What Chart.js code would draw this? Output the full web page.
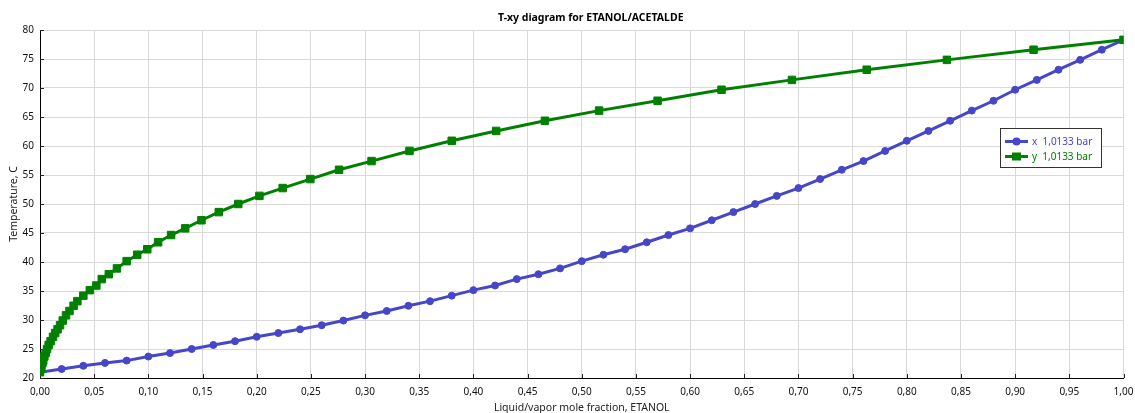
<!DOCTYPE html>
<html>
<head>
<meta charset="utf-8">
<title>T-xy diagram for ETANOL/ACETALDE</title>
<script src="https://cdn.jsdelivr.net/npm/chart.js@4.4.1/dist/chart.umd.min.js"></script>
<style>
    html, body { margin: 0; padding: 0; background: #fff; }
    #chart { display: block; }
</style>
</head>
<body>
<canvas id="chart" width="1135" height="413"></canvas>
<script>
// Composición del líquido (fracción molar de ETANOL)
const liquidX = [
    0.00, 0.02, 0.04, 0.06, 0.08, 0.10, 0.12, 0.14, 0.16, 0.18,
    0.20, 0.22, 0.24, 0.26, 0.28, 0.30, 0.32, 0.34, 0.36, 0.38,
    0.40, 0.42, 0.44, 0.46, 0.48, 0.50, 0.52, 0.54, 0.56, 0.58,
    0.60, 0.62, 0.64, 0.66, 0.68, 0.70, 0.72, 0.74, 0.76, 0.78,
    0.80, 0.82, 0.84, 0.86, 0.88, 0.90, 0.92, 0.94, 0.96, 0.98,
    1.00
];

// Composición del vapor en equilibrio
const vaporY = [
    0.0000, 0.0007, 0.0014, 0.0022, 0.0030, 0.0040, 0.0052, 0.0065, 0.0080, 0.0098,
    0.0120, 0.0140, 0.0162, 0.0185, 0.0210, 0.0240, 0.0272, 0.0310, 0.0345, 0.0400,
    0.0460, 0.0520, 0.0570, 0.0635, 0.0710, 0.0800, 0.0897, 0.0990, 0.1090, 0.1210,
    0.1340, 0.1490, 0.1650, 0.1830, 0.2025, 0.2240, 0.2495, 0.2760, 0.3060, 0.3410,
    0.3800, 0.4210, 0.4660, 0.5160, 0.5700, 0.6290, 0.6940, 0.7630, 0.8370, 0.9170,
    1.0000
];

// Temperatura de equilibrio (C)
const temperature = [
    21.00, 21.55, 22.10, 22.60, 23.00, 23.70, 24.30, 25.00, 25.70, 26.35,
    27.10, 27.75, 28.40, 29.10, 29.90, 30.80, 31.55, 32.45, 33.25, 34.20,
    35.15, 35.95, 37.05, 37.90, 38.90, 40.15, 41.25, 42.20, 43.40, 44.65,
    45.80, 47.20, 48.60, 50.00, 51.40, 52.75, 54.30, 55.90, 57.40, 59.15,
    60.90, 62.60, 64.35, 66.10, 67.80, 69.70, 71.40, 73.15, 74.85, 76.60,
    78.30
];

const chartTitle = 'T-xy diagram for ETANOL/ACETALDE';
const seriesLabels = ['x  1,0133 bar', 'y  1,0133 bar'];
const FONT = '"Noto Sans", "DejaVu Sans", sans-serif';
const BLUE = '#4646c8';
const GREEN = '#008000';

const toPoints = (xs, ts) => xs.map((v, i) => ({ x: v, y: ts[i] }));

// Título centrado sobre el área del gráfico
const plotTitle = {
    id: 'plotTitle',
    afterDraw(chart) {
        const { ctx, chartArea } = chart;
        ctx.save();
        ctx.font = 'bold 10.5px ' + FONT;
        ctx.fillStyle = '#000';
        ctx.textAlign = 'center';
        ctx.textBaseline = 'middle';
        ctx.fillText(chartTitle, (chartArea.left + chartArea.right) / 2 + 9, 18);
        ctx.restore();
    }
};

// Marcas de escala hacia dentro del área del gráfico
const innerTicks = {
    id: 'innerTicks',
    beforeDatasetsDraw(chart) {
        const { ctx, chartArea, scales } = chart;
        ctx.save();
        ctx.strokeStyle = '#222';
        ctx.lineWidth = 1;
        ctx.beginPath();
        scales.x.ticks.forEach(t => {
            const px = Math.round(scales.x.getPixelForValue(t.value)) + 0.5;
            ctx.moveTo(px, chartArea.bottom);
            ctx.lineTo(px, chartArea.bottom - 4);
        });
        scales.y.ticks.forEach(t => {
            const py = Math.round(scales.y.getPixelForValue(t.value)) + 0.5;
            ctx.moveTo(chartArea.left, py);
            ctx.lineTo(chartArea.left + 4, py);
        });
        ctx.stroke();
        ctx.restore();
    }
};

// Leyenda con recuadro dentro del área del gráfico
const boxLegend = {
    id: 'boxLegend',
    afterDraw(chart) {
        const { ctx, chartArea } = chart;
        const w = 102, h = 40;
        const x0 = Math.round(chartArea.right - 123.5);
        const y0 = Math.round(chartArea.top + 98);
        ctx.save();
        ctx.fillStyle = '#fff';
        ctx.fillRect(x0, y0, w, h);
        ctx.strokeStyle = '#333';
        ctx.lineWidth = 1;
        ctx.strokeRect(x0 + 0.5, y0 + 0.5, w - 1, h - 1);
        chart.data.datasets.forEach((ds, i) => {
            const y = y0 + 13.5 + i * 15;
            ctx.strokeStyle = ds.borderColor;
            ctx.lineWidth = 3;
            ctx.beginPath();
            ctx.moveTo(x0 + 5, y);
            ctx.lineTo(x0 + 28, y);
            ctx.stroke();
            ctx.fillStyle = ds.borderColor;
            if (ds.pointStyle === 'rect') {
                ctx.fillRect(x0 + 12, y - 4, 9, 8);
            } else {
                ctx.beginPath();
                ctx.arc(x0 + 16.5, y, 4, 0, Math.PI * 2);
                ctx.fill();
            }
            ctx.font = '10px ' + FONT;
            ctx.textBaseline = 'middle';
            ctx.textAlign = 'left';
            ctx.fillText(ds.label, x0 + 32, y + 0.5);
        });
        ctx.restore();
    }
};

const ctx = document.getElementById('chart').getContext('2d');
new Chart(ctx, {
    type: 'line',
    data: {
        datasets: [{
            label: seriesLabels[0],
            data: toPoints(liquidX, temperature),
            borderColor: BLUE,
            backgroundColor: BLUE,
            borderWidth: 3,
            pointStyle: 'circle',
            pointRadius: 3.5,
            pointBorderWidth: 1,
            tension: 0,
            order: 1
        }, {
            label: seriesLabels[1],
            data: toPoints(vaporY, temperature),
            borderColor: GREEN,
            backgroundColor: GREEN,
            borderWidth: 3,
            pointStyle: 'rect',
            pointRadius: 5.3,
            pointBorderWidth: 1,
            tension: 0,
            order: 0
        }]
    },
    options: {
        responsive: false,
        animation: false,
        events: [],
        layout: { padding: { left: 0, right: 0, top: 30, bottom: 0 } },
        plugins: {
            legend: { display: false },
            tooltip: { enabled: false },
            title: { display: false }
        },
        scales: {
            x: {
                type: 'linear',
                min: 0,
                max: 1,
                afterFit: s => { s.height = 35; s.paddingRight = 11.5; },
                border: { display: true, color: '#000', width: 1 },
                grid: { color: '#d9d9d9', lineWidth: 1, drawTicks: false },
                ticks: {
                    stepSize: 0.05,
                    padding: 8,
                    color: '#111',
                    maxRotation: 0,
                    autoSkip: false,
                    font: { family: FONT, size: 10 },
                    callback: v => v.toFixed(2).replace('.', ',')
                },
                title: {
                    display: true,
                    text: 'Liquid/vapor mole fraction, ETANOL',
                    color: '#222',
                    font: { family: FONT, size: 10.5, lineHeight: 1 },
                    padding: { top: 0, bottom: 0 }
                }
            },
            y: {
                type: 'linear',
                min: 20,
                max: 80,
                afterFit: s => { s.width = 40; },
                border: { display: true, color: '#000', width: 1 },
                grid: { color: '#d9d9d9', lineWidth: 1, drawTicks: false },
                ticks: {
                    stepSize: 5,
                    padding: 6,
                    color: '#111',
                    font: { family: FONT, size: 10 },
                    callback: v => String(v)
                },
                title: {
                    display: true,
                    text: 'Temperature, C',
                    color: '#222',
                    font: { family: FONT, size: 10.5, lineHeight: 1.2 },
                    padding: { top: 7.7, bottom: 0 }
                }
            }
        }
    },
    plugins: [innerTicks, boxLegend, plotTitle]
});
</script>
</body>
</html>
